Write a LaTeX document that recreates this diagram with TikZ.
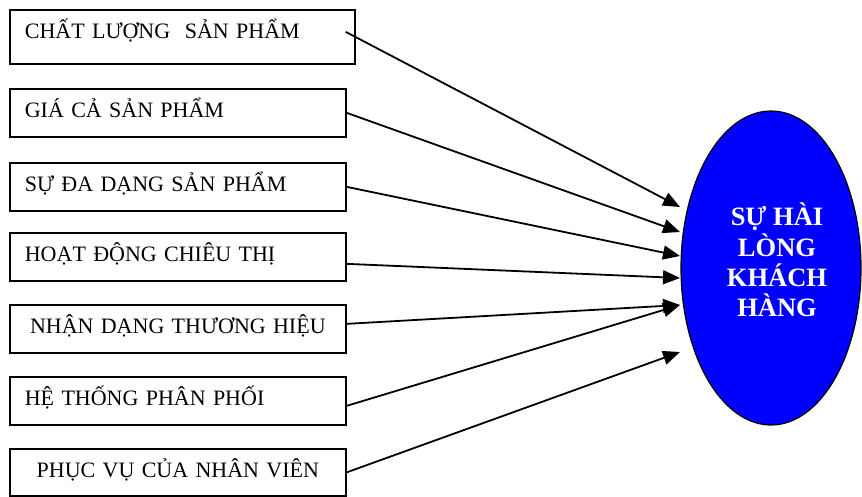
\documentclass[tikz,border=0pt]{standalone}
\usepackage{fontspec}
\setmainfont{Liberation Serif}
\usetikzlibrary{arrows.meta,shapes.geometric}
\definecolor{ellblue}{RGB}{0,0,255}
\tikzset{
  factor/.style={draw, line width=1.7pt, anchor=north west, inner xsep=15pt, inner ysep=0pt,
    text height=29pt, text depth=19pt, text width=306pt, font=\fontsize{22}{26}\selectfont},
  arr/.style={line width=1.8pt, -{Triangle[length=17pt,width=14pt]}},
  goal/.style={ellipse, draw, line width=1.2pt, fill=ellblue, minimum width=180pt, minimum height=314pt, inner sep=0pt}
}
\begin{document}
\begin{tikzpicture}[x=1pt,y=-1pt]
\useasboundingbox (0,0) rectangle (862,496);
\node[factor, text width=315pt, text depth=25pt, align=left] (b1) at (9,9) {CHẤT LƯỢNG\ \ SẢN PHẨM};
\node[factor, align=left] (b2) at (9,88) {GIÁ CẢ SẢN PHẨM};
\node[factor, align=left] (b3) at (9,162) {SỰ ĐA DẠNG SẢN PHẨM};
\node[factor, align=left] (b4) at (9,232) {HOẠT ĐỘNG CHIÊU THỊ};
\node[factor, align=center] (b5) at (9,304) {NHẬN DẠNG THƯƠNG HIỆU};
\node[factor, align=left] (b6) at (9,376) {HỆ THỐNG PHÂN PHỐI};
\node[factor, align=center, text depth=18pt] (b7) at (9,448) {PHỤC VỤ CỦA NHÂN VIÊN};
\node[goal] (g) at (771,268) {};
\node[text=white, font=\bfseries\fontsize{26.5}{30.3}\selectfont, align=center] (gt) at (777,260) {SỰ HÀI\\LÒNG\\KHÁCH\\HÀNG};
\coordinate (e1) at (680,207);
\coordinate (e2) at (680,232);
\coordinate (e3) at (680,256);
\coordinate (e4) at (680,278);
\coordinate (e5) at (680,305);
\coordinate (e7) at (680,352);
\draw[arr] ([xshift=-10pt,yshift=5pt]b1.east) -- (e1);
\draw[arr] (b2.east) -- (e2);
\draw[arr] (b3.east) -- (e3);
\draw[arr] ([yshift=-7pt]b4.east) -- (e4);
\draw[arr] ([yshift=5pt]b5.east) -- (e5);
\draw[arr] ([yshift=-5pt]b6.east) -- (e5);
\draw[arr] (b7.east) -- (e7);
\end{tikzpicture}
\end{document}
